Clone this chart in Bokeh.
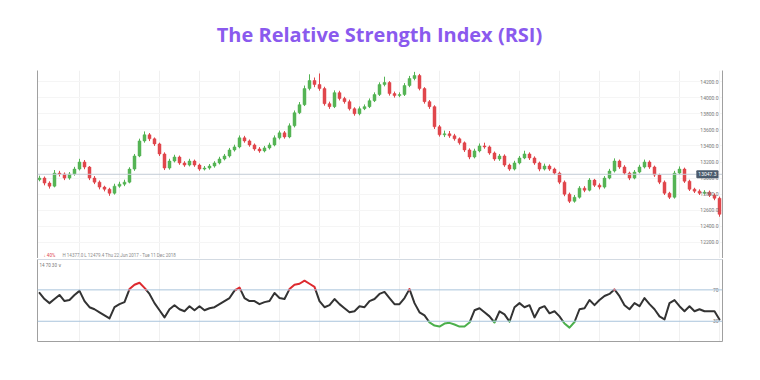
from bokeh.plotting import figure
from bokeh.models import Range1d, LinearAxis, Span, Label, Grid, FixedTicker, ColumnDataSource, Div
from bokeh.layouts import column
from bokeh.embed import file_html
from bokeh.resources import INLINE
from bokeh.core.properties import value

# ---------------- data ----------------
title_text = "The Relative Strength Index (RSI)"

opens = [12980, 13000, 12938, 12900, 13062, 13050, 13000, 13050, 13112, 13200,
         13137, 13000, 12950, 12888, 12862, 12812, 12900, 12925, 12950, 13112,
         13275, 13462, 13538, 13488, 13425, 13300, 13125, 13212, 13262, 13188,
         13162, 13212, 13162, 13112, 13125, 13150, 13188, 13238, 13275, 13350,
         13388, 13500, 13462, 13412, 13362, 13338, 13375, 13412, 13500, 13562,
         13512, 13650, 13812, 13912, 14112, 14212, 14162, 14112, 13925, 13888,
         14062, 13988, 13950, 13862, 13800, 13862, 13888, 13962, 14038, 14162,
         14188, 14050, 14025, 14038, 14150, 14238, 14275, 14112, 13950, 13888,
         13638, 13538, 13550, 13525, 13488, 13438, 13350, 13262, 13338, 13400,
         13388, 13312, 13238, 13275, 13162, 13112, 13188, 13250, 13300, 13250,
         13188, 13112, 13150, 13112, 13062, 12950, 12800, 12712, 12762, 12875,
         12850, 12975, 12912, 12888, 13000, 13088, 13212, 13138, 13062, 13000,
         13075, 13138, 13200, 13138, 13038, 12950, 12812, 12762, 13062, 13112,
         12962, 12862, 12838, 12812, 12825, 12788, 12750]
closes = [13000, 12938, 12900, 13062, 13050, 13000, 13050, 13112, 13200, 13137,
          13000, 12950, 12888, 12862, 12812, 12900, 12925, 12950, 13112, 13275,
          13462, 13538, 13488, 13425, 13300, 13125, 13212, 13262, 13188, 13162,
          13212, 13162, 13112, 13125, 13150, 13188, 13238, 13275, 13350, 13388,
          13500, 13462, 13412, 13362, 13338, 13375, 13412, 13500, 13562, 13512,
          13650, 13812, 13912, 14112, 14212, 14162, 14112, 13925, 13888, 14062,
          13988, 13950, 13862, 13800, 13862, 13888, 13962, 14038, 14162, 14188,
          14050, 14025, 14038, 14150, 14238, 14275, 14112, 13950, 13888, 13638,
          13538, 13550, 13525, 13488, 13438, 13350, 13262, 13338, 13400, 13388,
          13312, 13238, 13275, 13162, 13112, 13188, 13250, 13300, 13250, 13188,
          13112, 13150, 13112, 13062, 12950, 12800, 12712, 12762, 12875, 12850,
          12975, 12912, 12888, 13000, 13088, 13212, 13138, 13062, 13000, 13075,
          13138, 13200, 13138, 13038, 12950, 12812, 12762, 13062, 13112, 12962,
          12862, 12838, 12812, 12825, 12788, 12750, 12550]
highs = [13030, 13020, 12960, 13100, 13090, 13070, 13075, 13140, 13240, 13225,
         13150, 13025, 12970, 12905, 12880, 12930, 12955, 12980, 13135, 13300,
         13490, 13580, 13560, 13505, 13440, 13320, 13240, 13290, 13280, 13210,
         13240, 13230, 13180, 13150, 13175, 13210, 13265, 13300, 13375, 13415,
         13530, 13525, 13480, 13430, 13385, 13400, 13440, 13530, 13590, 13585,
         13680, 13840, 13945, 14150, 14290, 14250, 14300, 14135, 13950, 14090,
         14085, 14010, 13975, 13880, 13890, 13915, 13990, 14065, 14190, 14260,
         14205, 14075, 14065, 14180, 14270, 14320, 14295, 14130, 13970, 13905,
         13660, 13590, 13585, 13550, 13505, 13455, 13370, 13365, 13430, 13440,
         13405, 13330, 13300, 13295, 13180, 13215, 13275, 13340, 13320, 13270,
         13205, 13180, 13170, 13130, 13080, 12970, 12820, 12790, 12900, 12900,
         13000, 12990, 12935, 13025, 13115, 13245, 13230, 13160, 13080, 13100,
         13165, 13230, 13220, 13155, 13055, 12970, 12830, 13090, 13145, 13130,
         12980, 12880, 12860, 12850, 12845, 12810, 12770]
lows = [12960, 12910, 12870, 12885, 13020, 12975, 12980, 13030, 13095, 13110,
        12975, 12925, 12860, 12835, 12780, 12795, 12880, 12900, 12935, 13090,
        13260, 13440, 13460, 13400, 13275, 13100, 13105, 13195, 13165, 13140,
        13145, 13140, 13090, 13095, 13105, 13130, 13170, 13220, 13255, 13330,
        13370, 13440, 13390, 13340, 13315, 13320, 13355, 13395, 13480, 13490,
        13495, 13630, 13795, 13895, 14090, 14130, 14085, 13900, 13860, 13870,
        13965, 13925, 13840, 13775, 13780, 13845, 13870, 13945, 14020, 14140,
        14025, 14000, 14005, 14020, 14130, 14215, 14090, 13925, 13860, 13610,
        13515, 13510, 13500, 13465, 13415, 13325, 13235, 13245, 13320, 13365,
        13290, 13215, 13215, 13140, 13090, 13095, 13170, 13235, 13225, 13165,
        13085, 13095, 13090, 13040, 12925, 12775, 12690, 12695, 12745, 12825,
        12835, 12890, 12860, 12870, 12985, 13070, 13115, 13040, 12975, 12985,
        13060, 13120, 13115, 13015, 12925, 12790, 12740, 12745, 13045, 12940,
        12840, 12815, 12790, 12795, 12765, 12725, 12520]

rsi = [66.1, 58.3, 53.1, 58.3, 63.5, 55.7, 57.0, 63.5, 68.7, 55.7,
       47.9, 45.3, 41.4, 37.5, 33.6, 47.9, 51.8, 54.4, 71.0, 76.5,
       79.1, 72.6, 64.8, 53.1, 44.0, 34.9, 45.3, 50.5, 45.3, 42.7,
       49.2, 44.0, 49.2, 44.0, 46.6, 47.9, 51.8, 55.7, 59.6, 69.0,
       73.0, 59.6, 55.7, 55.7, 51.8, 54.4, 55.7, 66.1, 59.6, 58.3,
       71.0, 76.5, 77.8, 81.7, 77.8, 73.9, 55.7, 47.9, 50.5, 58.3,
       51.8, 46.6, 41.4, 42.7, 49.2, 47.9, 55.7, 58.3, 64.8, 67.4,
       59.6, 51.8, 51.8, 59.6, 71.0, 53.1, 41.4, 37.5, 28.5, 24.5,
       23.2, 27.1, 28.0, 25.8, 23.2, 23.2, 28.4, 44.0, 46.6, 41.4,
       36.2, 28.4, 42.7, 38.8, 29.5, 47.9, 53.1, 47.9, 50.5, 34.9,
       46.6, 49.2, 40.1, 42.7, 36.2, 27.1, 21.9, 29.0, 45.3, 46.6,
       57.0, 50.5, 57.0, 62.2, 64.8, 70.5, 62.0, 50.5, 45.3, 53.1,
       49.2, 59.6, 51.8, 45.3, 36.2, 32.3, 53.1, 57.0, 49.2, 42.7,
       49.2, 42.7, 45.3, 42.7, 42.7, 42.7, 32.3]

price_ticks = [12200, 12400, 12600, 12800, 13000, 13200, 13400, 13600, 13800, 14000, 14200]
rsi_upper = 70
rsi_lower = 30
last_price = 13047.3
info_change = "↓ 40%"
info_rest = "H 14377.0   L 12479.4   Thu 22 Jun 2017 - Tue 11 Dec 2018"
rsi_header = "14  70  30  ∨"

# ---------------- style ----------------
UP = "#55b455"
DN = "#e0474c"
FONT = "Roboto"
BORDER = "#a0a0a0"
GRID = "#f0f0f0"
LEVEL = "#a9c4dc"

n = len(closes)
x_lo, x_hi = -0.4, n - 0.4
price_lo, price_hi = 12001, 14337
rsi_lo, rsi_hi = 4.2, 108.7
grid_x = list(range(8, n, 8))


def border_axis(p, side, color):
    ax = LinearAxis(ticker=FixedTicker(ticks=[]), major_label_text_font_size="0px",
                    major_tick_in=0, major_tick_out=0, minor_tick_in=0, minor_tick_out=0,
                    major_label_standoff=0, axis_line_color=color, axis_line_width=1)
    p.add_layout(ax, side)


# ---------------- title ----------------
head = Div(text=title_text, width=752, height=70,
           styles={"text-align": "center", "font-family": "'Open Sans', sans-serif",
                   "font-weight": "bold", "font-size": "20px", "color": "#8a5aee",
                   "line-height": "70px", "padding-left": "7px",
                   "box-sizing": "border-box", "margin": "0"})

# ---------------- price panel ----------------
A = figure(width=752, height=188, x_range=Range1d(x_lo, x_hi), y_range=Range1d(price_lo, price_hi),
           x_axis_location=None, y_axis_location=None, toolbar_location=None,
           output_backend="svg", min_border_left=37, min_border_right=30,
           min_border_top=0, min_border_bottom=0, outline_line_color=None,
           background_fill_color="white", border_fill_color="white")
for g in list(A.grid):
    g.visible = False

A.add_layout(Grid(dimension=0, ticker=FixedTicker(ticks=grid_x), grid_line_color=GRID))
A.add_layout(Grid(dimension=1, ticker=FixedTicker(ticks=price_ticks), grid_line_color="#f5f5f5"))
border_axis(A, "left", BORDER)
border_axis(A, "right", BORDER)

A.add_layout(Span(location=last_price, dimension="width", line_color="#c3ccd6", line_width=1))

src = ColumnDataSource(dict(
    x=list(range(n)), o=opens, h=highs, l=lows, c=closes,
    top=[max(o, c) for o, c in zip(opens, closes)],
    bottom=[min(o, c) for o, c in zip(opens, closes)],
    color=[UP if c >= o else DN for o, c in zip(opens, closes)],
))
A.segment(x0="x", y0="h", x1="x", y1="l", line_color="color", line_width=1, source=src)
A.vbar(x="x", width=0.6, top="top", bottom="bottom", fill_color="color",
       line_color="color", line_width=0.5, source=src)

A.text(x=[x_hi] * len(price_ticks), y=price_ticks, text=[f"{t:.1f}" for t in price_ticks],
       x_offset=-4, text_align="right", text_baseline="middle",
       text_font=value(FONT), text_font_size=value("5px"), text_color="#7a7a7a")

A.add_layout(Label(x=x_hi, y=last_price, x_offset=-4, text=f"{last_price:.1f}",
                   text_align="right", text_baseline="middle", text_font=FONT,
                   text_font_size="5px", text_color="white",
                   background_fill_color="#4a5a6c", padding=2, border_radius=1))

A.add_layout(Label(x=x_lo, y=price_lo, x_offset=6, y_offset=3, text=info_change,
                   text_baseline="middle", text_font=FONT, text_font_size="4.5px",
                   text_color=DN))
A.add_layout(Label(x=x_lo, y=price_lo, x_offset=25, y_offset=3, text=info_rest,
                   text_baseline="middle", text_font=FONT, text_font_size="4.5px",
                   text_color="#8a8a8a"))

# ---------------- RSI panel ----------------
B = figure(width=752, height=91, x_range=A.x_range, y_range=Range1d(rsi_lo, rsi_hi),
           x_axis_location=None, y_axis_location=None, toolbar_location=None,
           output_backend="svg", min_border_left=37, min_border_right=30,
           min_border_top=1, min_border_bottom=8, outline_line_color=None,
           background_fill_color="white", border_fill_color="white")
for g in list(B.grid):
    g.visible = False
B.add_layout(Grid(dimension=0, ticker=FixedTicker(ticks=grid_x), grid_line_color=GRID))
border_axis(B, "left", BORDER)
border_axis(B, "right", BORDER)
border_axis(B, "below", BORDER)
border_axis(B, "above", "#d3dae2")

B.add_layout(Span(location=rsi_upper, dimension="width", line_color=LEVEL, line_width=1))
B.add_layout(Span(location=rsi_lower, dimension="width", line_color=LEVEL, line_width=1))


def rsi_paths(xs, ys, hi, lo):
    paths = {"mid": [], "hi": [], "lo": []}

    def cls_of(v):
        return "hi" if v > hi else ("lo" if v < lo else "mid")

    cur, cx, cy = None, [], []
    for i in range(len(xs) - 1):
        x0, y0, x1, y1 = xs[i], ys[i], xs[i + 1], ys[i + 1]
        ts = [0.0, 1.0]
        for lev in (hi, lo):
            if (y0 - lev) * (y1 - lev) < 0:
                ts.append((lev - y0) / (y1 - y0))
        ts.sort()
        for a, b in zip(ts[:-1], ts[1:]):
            xa, ya = x0 + a * (x1 - x0), y0 + a * (y1 - y0)
            xb, yb = x0 + b * (x1 - x0), y0 + b * (y1 - y0)
            c = cls_of((ya + yb) / 2)
            if c == cur:
                cx.append(xb)
                cy.append(yb)
            else:
                if cur is not None:
                    paths[cur].append((cx, cy))
                cur, cx, cy = c, [xa, xb], [ya, yb]
    paths[cur].append((cx, cy))
    return paths


paths = rsi_paths(list(range(n)), rsi, rsi_upper, rsi_lower)
for key, colr in (("mid", "#333333"), ("hi", "#dd2a2f"), ("lo", "#4cb04c")):
    if paths[key]:
        B.multi_line(xs=[p[0] for p in paths[key]], ys=[p[1] for p in paths[key]],
                     line_color=colr, line_width=2, line_join="round", line_cap="round")

B.text(x=[x_hi, x_hi], y=[rsi_upper, rsi_lower], text=[str(rsi_upper), str(rsi_lower)],
       x_offset=-4, text_align="right", text_baseline="middle",
       text_font=value(FONT), text_font_size=value("5px"), text_color="#7a7a7a")

B.add_layout(Label(x=x_lo, y=rsi_hi, x_offset=2, y_offset=-6, text=rsi_header,
                   text_baseline="middle", text_font=FONT, text_font_size="4.5px",
                   text_color="#777777"))

layout = column(head, A, B, spacing=0)
open("out.html", "w").write(file_html(layout, INLINE))
